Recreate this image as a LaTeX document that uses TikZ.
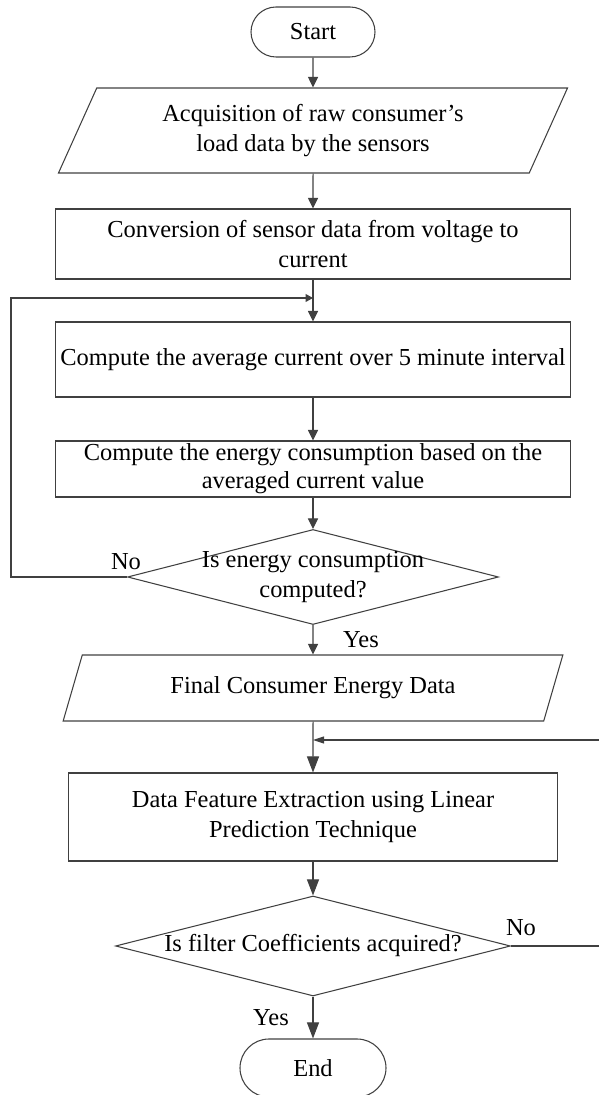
\documentclass[tikz,border=0pt]{standalone}
\usepackage{fontspec}
\setmainfont{Liberation Serif}
\usetikzlibrary{arrows.meta,shapes.geometric}

\begin{document}
\begin{tikzpicture}[>=Triangle,
  ink/.style={draw=black!75,line width=0.6pt},
  txt/.style={font=\fontsize{13.9}{17}\selectfont,align=center},
  term/.style={ink,txt,rounded corners=0.5cm,minimum width=2.48cm,minimum height=1.0cm},
  io/.style={ink,txt,trapezium,trapezium stretches=true,trapezium left angle=63,
    trapezium right angle=117,inner sep=0pt},
  proc/.style={ink,txt,rectangle,minimum width=10.3cm,inner sep=0pt},
  dec/.style={ink,diamond,inner sep=0pt},
  arr/.style={ink,-{Triangle[length=2.1mm,width=2.0mm]}},
  arrbig/.style={ink,-{Triangle[length=3.2mm,width=2.4mm]}},
  back/.style={ink,-{Triangle[length=1.5mm,width=1.6mm]}},
  backlong/.style={ink,-{Triangle[length=2.2mm,width=1.4mm]}}]

\useasboundingbox (0,0) rectangle (11.98,21.90);

\node[term] (start) at (6.26,21.26) {Start};
\node[io,minimum width=10.2cm,minimum height=1.7cm] (acq) at (6.26,19.29)
  {Acquisition of raw consumer's\\load data by the sensors};
\node[proc,minimum height=1.4cm] (conv) at (6.26,17.02)
  {Conversion of sensor data from voltage to\\current};
\node[proc,minimum height=1.5cm] (avg) at (6.26,14.71)
  {Compute the average current over 5 minute interval};
\node[proc,minimum height=1.12cm,font=\fontsize{13.9}{16}\selectfont] (energy) at (6.26,12.52)
  {Compute the energy consumption based on the\\averaged current value};
\node[dec,minimum width=7.42cm,minimum height=1.9cm] (chk) at (6.26,10.36) {};
\node[txt] (chktxt) at (chk) {Is energy consumption\\computed?};
\node[io,minimum width=10.02cm,minimum height=1.32cm,trapezium left angle=62,
  trapezium right angle=118] (final) at (6.26,8.14) {Final Consumer Energy Data};
\node[proc,minimum width=9.78cm,minimum height=1.76cm] (feat) at (6.26,5.56)
  {Data Feature Extraction using Linear\\Prediction Technique};
\node[dec,minimum width=7.9cm,minimum height=2.0cm] (coef) at (6.26,2.98) {};
\node[txt] (coeftxt) at (coef) {Is filter Coefficients acquired?};
\node[term,rounded corners=0.58cm,minimum width=2.92cm,minimum height=1.16cm] (end) at (6.26,0.54) {End};

\node[txt] (no1) at (2.52,10.66) {No};
\node[txt] (yes1) at (7.22,9.10) {Yes};
\node[txt] (no2) at (10.42,3.34) {No};
\node[txt] (yes2) at (5.42,1.54) {Yes};

\coordinate (l1) at (0.22,15.94);
\coordinate (j1) at (6.26,15.94);
\coordinate (r2) at (12.1,7.10);
\coordinate (j2) at (6.26,7.10);

\draw[arr] (start) -- (acq);
\draw[arr] (acq) -- (conv);
\draw[arr] (conv) -- (avg);
\draw[arr] (avg) -- (energy);
\draw[arr] (energy) -- (chk);
\draw[arr] (chk) -- (final);
\draw[arrbig] (final) -- (feat);
\draw[arrbig] (feat) -- (coef);
\draw[arrbig] (coef) -- (end);
\draw[back] (chk.west) -| (l1) -- (j1);
\draw[backlong] (coef.east) -| (r2) -- (j2);
\end{tikzpicture}
\end{document}
